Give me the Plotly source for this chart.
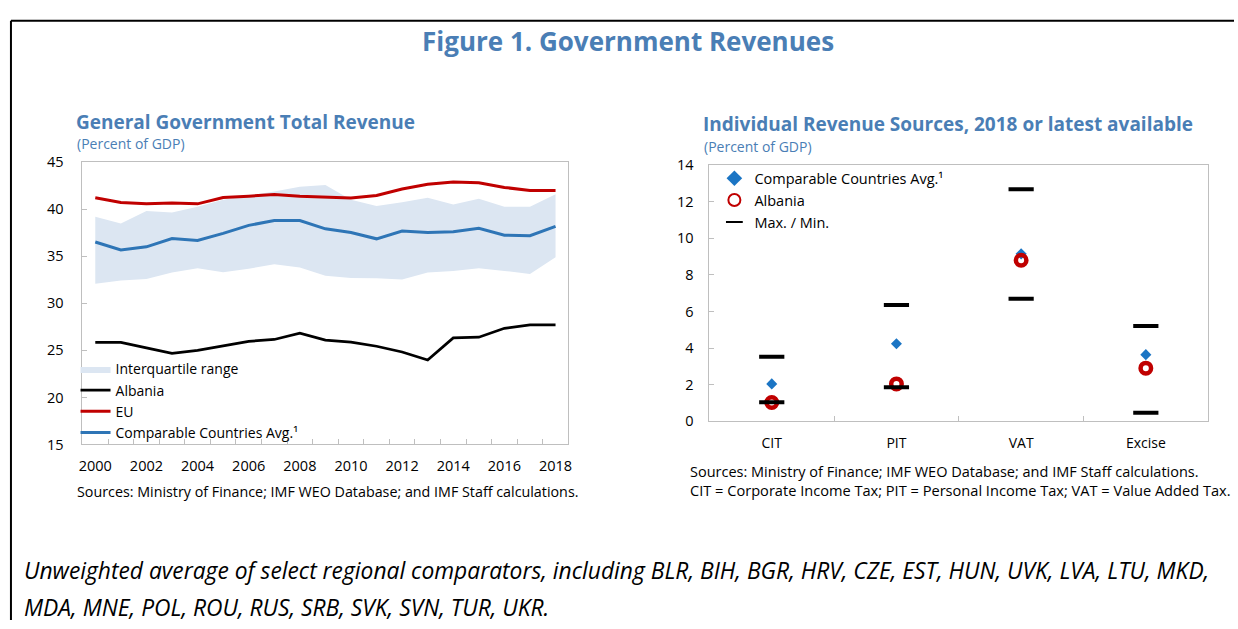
import plotly.graph_objects as go

# ---------------- data ----------------
years = list(range(2000, 2019))
albania = [25.85, 25.85, 25.27, 24.69, 25.0, 25.44, 25.96, 26.16, 26.84, 26.09,
           25.89, 25.44, 24.83, 23.98, 26.33, 26.40, 27.35, 27.70, 27.70]
eu = [41.23, 40.72, 40.58, 40.68, 40.58, 41.26, 41.40, 41.57, 41.40, 41.26,
      41.19, 41.47, 42.15, 42.66, 42.90, 42.83, 42.32, 42.01, 42.01]
comparable = [36.52, 35.67, 36.01, 36.89, 36.69, 37.44, 38.29, 38.81, 38.81, 37.92,
              37.54, 36.86, 37.68, 37.54, 37.61, 37.99, 37.24, 37.20, 38.19]
iqr_upper = [39.21, 38.50, 39.83, 39.66, 40.27, 41.02, 41.47, 41.88, 42.39, 42.59,
             41.02, 40.34, 40.75, 41.23, 40.51, 41.13, 40.27, 40.27, 41.60]
iqr_lower = [32.08, 32.42, 32.59, 33.28, 33.72, 33.31, 33.69, 34.16, 33.82, 32.94,
             32.70, 32.66, 32.53, 33.28, 33.45, 33.72, 33.45, 33.11, 34.91]
year_ticks = [2000, 2002, 2004, 2006, 2008, 2010, 2012, 2014, 2016, 2018]
left_yticks = [15, 20, 25, 30, 35, 40, 45]

categories = ["CIT", "PIT", "VAT", "Excise"]
src_avg = [2.04, 4.24, 9.15, 3.64]
src_albania = [1.02, 2.04, 8.80, 2.90]
src_max = [3.52, 6.35, 12.68, 5.21]
src_min = [1.04, 1.85, 6.69, 0.46]
right_yticks = [0, 2, 4, 6, 8, 10, 12, 14]

# ---------------- styles ----------------
W, H = 1238, 629
FONT = "Open Sans"
TITLE_BLUE = "#4A7EB5"
BLUE = "#2E75B6"
RED = "#C00000"
FILL = "#DCE6F2"
GRID = "#BFBFBF"


def px(x):
    return x / W


def py(y):
    return 1 - y / H


fig = go.Figure()

# ---- left chart ----
fig.add_trace(go.Scatter(x=years, y=iqr_lower, mode="lines", line=dict(width=0, color=FILL),
                         showlegend=False, hoverinfo="skip", xaxis="x", yaxis="y"))
fig.add_trace(go.Scatter(x=years, y=iqr_upper, mode="lines", line=dict(width=0, color=FILL),
                         fill="tonexty", fillcolor=FILL, name="Interquartile range",
                         legend="legend", xaxis="x", yaxis="y"))
fig.add_trace(go.Scatter(x=years, y=albania, mode="lines", line=dict(color="black", width=2.75),
                         name="Albania", legend="legend", xaxis="x", yaxis="y"))
fig.add_trace(go.Scatter(x=years, y=eu, mode="lines", line=dict(color=RED, width=3),
                         name="EU", legend="legend", xaxis="x", yaxis="y"))
fig.add_trace(go.Scatter(x=years, y=comparable, mode="lines", line=dict(color=BLUE, width=3),
                         name="Comparable Countries Avg.¹", legend="legend", xaxis="x", yaxis="y"))

# ---- right chart ----
fig.add_trace(go.Scatter(x=categories, y=src_avg, mode="markers",
                         marker=dict(symbol="diamond", size=8.5, color="#1B75C4"),
                         name="Comparable Countries Avg.¹", legend="legend2",
                         xaxis="x2", yaxis="y2"))
fig.add_trace(go.Scatter(x=categories, y=src_albania, mode="markers",
                         marker=dict(symbol="circle-open", size=10.5, color=RED,
                                     line=dict(width=4.5, color=RED)),
                         name="Albania", legend="legend2", xaxis="x2", yaxis="y2"))
fig.add_trace(go.Scatter(x=categories + categories, y=src_max + src_min, mode="markers",
                         marker=dict(symbol="line-ew", size=18, color="black",
                                     line=dict(width=4, color="black")),
                         name="Max. / Min.", legend="legend2", xaxis="x2", yaxis="y2"))

tick_font = dict(family=FONT, size=14.5, color="black")
cat_font = dict(family=FONT, size=14, color="black")

fig.update_layout(
    width=W, height=H,
    margin=dict(l=0, r=0, t=0, b=0),
    paper_bgcolor="white", plot_bgcolor="white",
    font=dict(family=FONT, color="black"),
    xaxis=dict(
        domain=[px(79), px(568)], anchor="y",
        range=[1999.5, 2018.5],
        tickmode="array", tickvals=year_ticks, ticktext=[str(v) for v in year_ticks],
        ticks="", showgrid=False, zeroline=False,
        showline=True, linecolor=GRID, linewidth=1, mirror=True,
        tickfont=tick_font, ticklabelstandoff=8,
        minor=dict(tickvals=[y + 0.5 for y in years[:-1]], ticks="inside",
                   ticklen=5, tickcolor=GRID, tickwidth=1, showgrid=False),
    ),
    yaxis=dict(
        domain=[py(448), py(157)], anchor="x",
        range=[15, 45], tickvals=left_yticks,
        ticks="inside", ticklen=5, tickcolor=GRID,
        showgrid=False, zeroline=False,
        showline=True, linecolor=GRID, linewidth=1, mirror=True,
        tickfont=tick_font, ticklabelstandoff=15,
    ),
    xaxis2=dict(
        domain=[px(710), px(1212)], anchor="y2",
        type="category", range=[-0.5, 3.5],
        ticks="inside", tickson="boundaries", ticklen=5, tickcolor=GRID,
        showgrid=False, zeroline=False,
        showline=True, linecolor=GRID, linewidth=1, mirror=True,
        tickfont=cat_font, ticklabelstandoff=9,
    ),
    yaxis2=dict(
        domain=[py(424), py(160)], anchor="x2",
        range=[0, 14], tickvals=right_yticks,
        ticks="inside", ticklen=5, tickcolor=GRID,
        showgrid=False, zeroline=False,
        showline=True, linecolor=GRID, linewidth=1, mirror=True,
        tickfont=tick_font, ticklabelstandoff=12,
    ),
    legend=dict(
        x=px(72), y=py(354), xanchor="left", yanchor="top",
        bgcolor="rgba(0,0,0,0)", font=dict(family=FONT, size=14, color="black"),
        itemwidth=30, tracegroupgap=0, traceorder="normal",
    ),
    legend2=dict(
        x=px(715), y=py(157), xanchor="left", yanchor="top",
        bgcolor="rgba(0,0,0,0)", font=dict(family=FONT, size=14.5, color="black"),
        itemwidth=30, tracegroupgap=0, itemsizing="constant", traceorder="normal",
    ),
    showlegend=True,
)

# ---- frame ----
fig.add_shape(type="line", xref="paper", yref="paper", x0=px(7), x1=1, y0=py(11), y1=py(11),
              line=dict(color="black", width=2))
fig.add_shape(type="line", xref="paper", yref="paper", x0=px(7), x1=px(7), y0=py(11), y1=0,
              line=dict(color="black", width=2))


# ---- texts ----
def text(s, x, y, size, bold=False, italic=False, color="black", anchor="left"):
    if bold:
        s = "<b>" + s + "</b>"
    if italic:
        s = "<i>" + s + "</i>"
    fig.add_annotation(text=s, x=px(x), y=py(y), xref="paper", yref="paper",
                       xanchor=anchor, yanchor="middle", showarrow=False,
                       font=dict(family=FONT, size=size, color=color))


text("Figure 1. Government Revenues", 628, 32, 26, bold=True, color=TITLE_BLUE, anchor="center")
text("General Government Total Revenue", 70, 115, 19, bold=True, color=TITLE_BLUE)
text("(Percent of GDP)", 71, 138, 14, color=TITLE_BLUE)
text("Individual Revenue Sources, 2018 or latest available", 702, 118, 19, bold=True, color=TITLE_BLUE)
text("(Percent of GDP)", 703, 141, 14, color=TITLE_BLUE)
text("Sources: Ministry of Finance; IMF WEO Database; and IMF Staff calculations.", 71, 497, 14.3)
text("Sources: Ministry of Finance; IMF WEO Database; and IMF Staff calculations.", 688, 476, 14.5)
text("CIT = Corporate Income Tax; PIT = Personal Income Tax; VAT = Value Added Tax.", 688, 495, 14.6)
text("Unweighted average of select regional comparators, including BLR, BIH, BGR, HRV, CZE, EST, HUN, UVK, LVA, LTU, MKD,",
     18, 578, 22.8, italic=True)
text("MDA, MNE, POL, ROU, RUS, SRB, SVK, SVN, TUR, UKR.", 18, 616, 22.8, italic=True)

fig.write_html(
    "out.html",
    config={"displayModeBar": False},
    post_script=(
        "document.documentElement.style.margin='0';"
        "document.documentElement.style.padding='0';"
        "document.documentElement.style.overflow='hidden';"
        "document.body.style.margin='0';"
        "document.body.style.padding='0';"
        "document.body.style.overflow='hidden';"
    ),
)
